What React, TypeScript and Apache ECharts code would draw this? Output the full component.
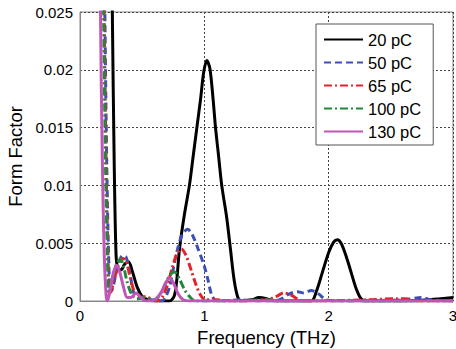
import React, { useEffect, useRef } from "react";
import * as echarts from "echarts";

const seriesNames = ["20 pC", "50 pC", "65 pC", "100 pC", "130 pC"];

const pc20: number[][] = [
  [0.2, 0.09], [0.255, 0.03], [0.26, 0.025], [0.275, 0.012], [0.29, 0.004], [0.305, 0.0028],
  [0.33, 0.0027], [0.36, 0.0032], [0.39, 0.0034], [0.42, 0.0026], [0.46, 0.0012], [0.5, 0.0004],
  [0.55, 0.0001], [0.6, 0], [0.72, 0], [0.76, 0.0005], [0.78, 0.002], [0.8, 0.0045], [0.84, 0.0075],
  [0.88, 0.01], [0.91, 0.0125], [0.94, 0.015], [0.97, 0.0175], [0.995, 0.0198], [1.02, 0.0208],
  [1.045, 0.0201], [1.07, 0.0175], [1.09, 0.015], [1.115, 0.0125], [1.14, 0.01], [1.18, 0.0072],
  [1.21, 0.0045], [1.24, 0.0018], [1.27, 0.0003], [1.3, 0], [1.38, 0.0001], [1.44, 0.0003],
  [1.5, 0.0002], [1.56, 0], [1.86, 0], [1.9, 0.0008], [1.95, 0.0025], [2.0, 0.0042], [2.04, 0.0051],
  [2.07, 0.0053], [2.1, 0.005], [2.14, 0.0039], [2.18, 0.0025], [2.22, 0.0011], [2.26, 0.0002],
  [2.3, 0], [2.6, 0], [2.8, 0.0001], [2.9, 0.0002], [3.0, 0.0003],
];

const pc50: number[][] = [
  [0.17, 0.06], [0.2, 0.025], [0.215, 0.012], [0.23, 0.004], [0.245, 0.0008], [0.26, 0.001],
  [0.3, 0.0028], [0.34, 0.0039], [0.37, 0.0038], [0.4, 0.0025], [0.43, 0.0008], [0.47, 0.0002],
  [0.52, 0.0003], [0.58, 0.0001], [0.65, 0], [0.68, 0.0002], [0.72, 0.0012], [0.75, 0.0028],
  [0.78, 0.0043], [0.82, 0.0057], [0.865, 0.0062], [0.9, 0.0058], [0.95, 0.0045], [1.0, 0.003],
  [1.03, 0.0018], [1.06, 0.0005], [1.1, 0], [1.3, 0.0001], [1.45, 0], [1.6, 0.0001], [1.68, 0.0006],
  [1.75, 0.0008], [1.8, 0.0007], [1.86, 0.0009], [1.92, 0.0006], [1.98, 0.0001], [2.1, 0],
  [2.6, 0.0001], [2.75, 0.0003], [2.82, 0.0001], [3.0, 0],
];

const pc65: number[][] = [
  [0.165, 0.06], [0.195, 0.025], [0.21, 0.012], [0.225, 0.004], [0.24, 0.0006], [0.26, 0.0012],
  [0.3, 0.0028], [0.34, 0.0037], [0.37, 0.0035], [0.4, 0.0022], [0.44, 0.0007], [0.48, 0.0003],
  [0.53, 0.0004], [0.58, 0.0001], [0.62, 0], [0.66, 0.0003], [0.7, 0.0013], [0.74, 0.0028],
  [0.78, 0.0041], [0.815, 0.0045], [0.85, 0.004], [0.89, 0.0028], [0.93, 0.0015], [0.97, 0.0005],
  [1.01, 0.0001], [1.1, 0.0001], [1.2, 0], [1.5, 0.0001], [1.58, 0.0004], [1.64, 0.0007],
  [1.7, 0.0005], [1.76, 0.0001], [1.85, 0], [2.3, 0.0001], [2.55, 0.0002], [2.62, 0.0002],
  [2.7, 0], [3.0, 0],
];

const pc100: number[][] = [
  [0.16, 0.06], [0.19, 0.025], [0.205, 0.012], [0.22, 0.004], [0.232, 0.0006], [0.25, 0.0014],
  [0.29, 0.0031], [0.325, 0.0036], [0.35, 0.003], [0.38, 0.0016], [0.42, 0.0005], [0.46, 0.0002],
  [0.5, 0.0003], [0.55, 0.0001], [0.6, 0.0001], [0.64, 0.0005], [0.68, 0.0013], [0.72, 0.0022],
  [0.76, 0.0025], [0.8, 0.0019], [0.84, 0.001], [0.88, 0.0004], [0.93, 0], [1.2, 0],
  [1.5, 0.0001], [1.6, 0], [3.0, 0],
];

const pc130: number[][] = [
  [0.15, 0.06], [0.165, 0.025], [0.18, 0.012], [0.195, 0.004], [0.21, 0.0005], [0.22, 0],
  [0.24, 0.0008], [0.27, 0.0025], [0.295, 0.0031], [0.32, 0.0025], [0.35, 0.0012], [0.38, 0.0003],
  [0.41, 0.0003], [0.45, 0.0007], [0.49, 0.0003], [0.53, 0], [0.6, 0.0001], [0.65, 0.0007],
  [0.69, 0.0016], [0.72, 0.002], [0.75, 0.0016], [0.79, 0.0006], [0.83, 0.0001], [0.88, 0],
  [3.0, 0],
];

const xTicks = [0, 1, 2, 3];
const yTicks = [0, 0.005, 0.01, 0.015, 0.02, 0.025];

const seriesData = [pc20, pc50, pc65, pc100, pc130];
const colors = ["#000000", "#3b4fb8", "#e3232c", "#1f8a3c", "#c155b8"];
const dashes: any[] = ["solid", [7, 4], [8, 3, 2, 3], [8, 3, 2, 3], "solid"];

export default function App() {
  const ref = useRef<HTMLDivElement>(null);
  useEffect(() => {
    if (!ref.current) return;
    document.body.style.margin = "0";
    const chart = echarts.init(ref.current, undefined, { renderer: "svg" });
    const font = "Liberation Sans, Arial, sans-serif";
    chart.setOption({
      animation: false,
      backgroundColor: "#ffffff",
      textStyle: { fontFamily: font },
      grid: {
        left: 80,
        right: 3,
        top: 12,
        bottom: 48,
        outerBoundsMode: "none",
        containLabel: false,
        show: true,
        borderColor: "#888888",
        borderWidth: 1,
      },
      legend: {
        orient: "vertical",
        left: 316,
        top: 24,
        data: seriesNames,
        itemWidth: 39,
        itemHeight: 14,
        itemGap: 6,
        padding: [7, 12, 5, 7],
        borderColor: "#555555",
        borderWidth: 1,
        backgroundColor: "#ffffff",
        itemStyle: { opacity: 0 },
        textStyle: { fontSize: 16.5, color: "#000", fontFamily: font },
      },
      xAxis: {
        type: "value",
        min: xTicks[0],
        max: xTicks[xTicks.length - 1],
        interval: 1,
        name: "Frequency (THz)",
        nameLocation: "middle",
        nameGap: 24,
        nameTextStyle: { fontSize: 18.5, color: "#000", fontFamily: font },
        axisLine: { lineStyle: { color: "#888888" } },
        axisTick: { show: false },
        axisLabel: { fontSize: 15, color: "#000", margin: 7, fontFamily: font },
        splitLine: { show: true, lineStyle: { color: "#444", type: [2, 2], width: 1 } },
      },
      yAxis: {
        type: "value",
        min: yTicks[0],
        max: yTicks[yTicks.length - 1],
        interval: 0.005,
        name: "Form Factor",
        nameLocation: "middle",
        nameGap: 55,
        nameTextStyle: { fontSize: 18.5, color: "#000", fontFamily: font },
        axisLine: { show: true, lineStyle: { color: "#888888" } },
        axisTick: { show: false },
        axisLabel: { fontSize: 15, color: "#000", margin: 7, fontFamily: font },
        splitLine: { show: true, lineStyle: { color: "#444", type: [2, 2], width: 1 } },
      },
      series: seriesData.map((d, i) => ({
        name: seriesNames[i],
        type: "line",
        data: d,
        smooth: 0.3,
        symbol: "none",
        clip: true,
        color: colors[i],
        itemStyle: { color: colors[i], opacity: 0 },
        lineStyle: { color: colors[i], width: 3, type: dashes[i] },
        z: 2 + i,
      })),
    });
    return () => chart.dispose();
  }, []);
  return <div ref={ref} style={{ width: 456, height: 349 }} />;
}
